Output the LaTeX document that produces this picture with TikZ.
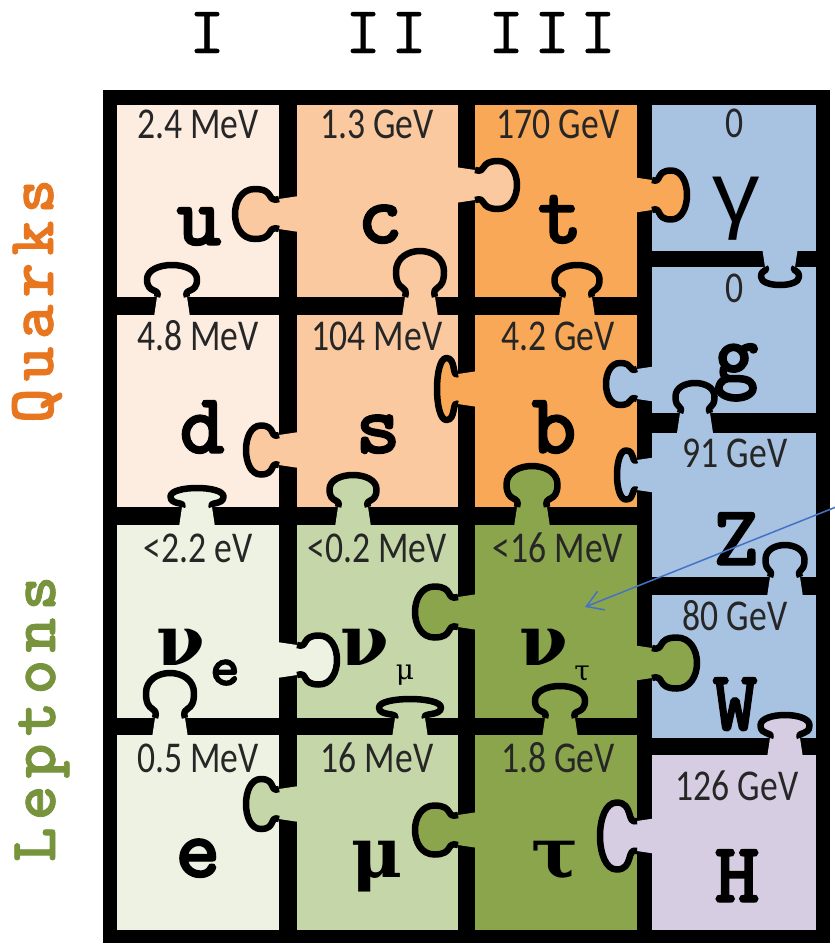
\documentclass[tikz,border=0pt]{standalone}
\usepackage{fontspec}
\usepackage{graphicx}
\usetikzlibrary{arrows.meta}
\newfontfamily\massfont{Carlito}
\newfontfamily\symface[FakeBold=1.6]{lmmonolt10-bold.otf}
\newfontfamily\sideface[LetterSpace=11,FakeBold=1.2]{lmmonolt10-bold.otf}
\newfontfamily\headface[LetterSpace=16,FakeBold=0.6]{lmmono10-regular.otf}
\newfontfamily\greekface{DejaVu Serif}
\newfontfamily\gammaface{Liberation Mono}

% cell colours
\definecolor{cU}{HTML}{FDEDE1}
\definecolor{cC}{HTML}{FBC9A0}
\definecolor{cT}{HTML}{F9A857}
\definecolor{cNe}{HTML}{EEF2E2}
\definecolor{cNm}{HTML}{C5D7A8}
\definecolor{cNt}{HTML}{8BA54D}
\definecolor{cB}{HTML}{A8C2E1}
\definecolor{cH}{HTML}{D6CDE3}
\definecolor{masstext}{HTML}{262626}
\definecolor{quarkcol}{HTML}{E8761F}
\definecolor{leptoncol}{HTML}{77933C}
\definecolor{arrowblue}{HTML}{4472C4}

\newcommand\mval[1]{\scalebox{0.81}[1]{#1}}
\def\nk{15}
% jigsaw tab: #1,#2 = neck centre on the receiving edge, #3 = direction,
% #4 = reach, #5 = bulb half-width, #6 = colour of the giving cell
\newcommand\jigsawtab[6]{%
  \begin{scope}[shift={(#1,#2)},rotate=#3]
    \fill[#6] (-20,-\nk-3) -- (0,-\nk)
      .. controls (0.3*#4,-0.75*\nk) and (0.08*#4,-#5) .. (0.55*#4,-#5)
      .. controls (1.15*#4,-#5) and (1.15*#4,#5) .. (0.55*#4,#5)
      .. controls (0.08*#4,#5) and (0.3*#4,0.75*\nk) .. (0,\nk)
      -- (-20,\nk+3) -- cycle;
    \draw[tabline] (0,-\nk)
      .. controls (0.3*#4,-0.75*\nk) and (0.08*#4,-#5) .. (0.55*#4,-#5)
      .. controls (1.15*#4,-#5) and (1.15*#4,#5) .. (0.55*#4,#5)
      .. controls (0.08*#4,#5) and (0.3*#4,0.75*\nk) .. (0,\nk);
  \end{scope}}

\tikzset{
  tabline/.style={draw=black,line width=6.5pt,line join=round},
  mass/.style={font=\massfont\fontsize{44}{44}\selectfont,text=masstext,anchor=base,inner sep=0pt},
  sym/.style={font=\symface\fontsize{86}{86}\selectfont,anchor=base,inner sep=0pt},
  greek/.style={font=\greekface\bfseries\fontsize{70}{70}\selectfont,anchor=base,inner sep=0pt},
  gammasym/.style={font=\gammaface\fontsize{86}{86}\selectfont,anchor=base,inner sep=0pt},
  subbig/.style={font=\symface\fontsize{57}{57}\selectfont,anchor=base,inner sep=0pt},
  subsmall/.style={font=\greekface\fontsize{28}{28}\selectfont,anchor=base,inner sep=0pt},
  head/.style={font=\headface\fontsize{67}{67}\selectfont,anchor=base,inner sep=0pt},
  side/.style={font=\sideface\fontsize{66}{66}\selectfont,anchor=base,inner sep=0pt,rotate=90},
  pointer/.style={draw=arrowblue,line width=1.5pt,-{Straight Barb[length=16pt,width=20pt]}}
}

\begin{document}
\begin{tikzpicture}[x=1pt,y=-1pt]
\useasboundingbox (0,0) rectangle (835,945);
\fill[white] (0,0) rectangle (835,945);

% frame: the black between the cells
\fill[black] (103,90) rectangle (830,943);

% fermion cells
\fill[cU]  (117,105) rectangle (279,297);
\fill[cC]  (297,105) rectangle (458,297);
\fill[cT]  (475,105) rectangle (637,297);
\fill[cU]  (117,315) rectangle (279,507);
\fill[cC]  (297,315) rectangle (458,507);
\fill[cT]  (475,315) rectangle (637,507);
\fill[cNe] (117,525) rectangle (279,718);
\fill[cNm] (297,525) rectangle (458,718);
\fill[cNt] (475,525) rectangle (637,718);
\fill[cNe] (117,735) rectangle (279,930);
\fill[cNm] (297,735) rectangle (458,930);
\fill[cNt] (475,735) rectangle (637,930);
% boson cells
\fill[cB] (652,105) rectangle (816,251);
\fill[cB] (652,267) rectangle (816,413);
\fill[cB] (652,433) rectangle (816,577);
\fill[cB] (652,595) rectangle (816,738);
\fill[cH] (652,755) rectangle (816,930);

% tabs joining the pieces
\jigsawtab{279}{214}{180}{44}{25}{cC}
\jigsawtab{172}{297}{90}{32}{25}{cU}
\jigsawtab{420}{297}{90}{46}{24}{cC}
\jigsawtab{475}{185}{0}{42}{24}{cC}
\jigsawtab{652}{195}{0}{35}{24.5}{cT}
\jigsawtab{577}{297}{90}{32}{22.5}{cT}
\jigsawtab{780}{267}{-90}{18}{19}{cB}
\jigsawtab{279}{450}{180}{33}{24.5}{cC}
\jigsawtab{458}{389}{180}{21}{31}{cT}
\jigsawtab{197}{507}{90}{19}{26.5}{cNe}
\jigsawtab{353}{507}{90}{32}{23.5}{cNm}
\jigsawtab{637}{384}{180}{31}{21}{cB}
\jigsawtab{695}{413}{90}{30}{19.5}{cB}
\jigsawtab{637}{475}{180}{20}{24.5}{cB}
\jigsawtab{532}{507}{90}{41}{25.5}{cNt}
\jigsawtab{297}{660}{0}{40}{24.5}{cNe}
\jigsawtab{458}{612}{180}{43}{25.5}{cNt}
\jigsawtab{170}{718}{90}{45}{24}{cNe}
\jigsawtab{410}{718}{90}{19}{31}{cNm}
\jigsawtab{652}{663}{0}{45}{25.5}{cNt}
\jigsawtab{785}{577}{90}{32}{19.5}{cB}
\jigsawtab{560}{718}{90}{32}{25}{cNt}
\jigsawtab{785}{738}{90}{23}{24.5}{cH}
\jigsawtab{279}{804}{180}{33}{25}{cNm}
\jigsawtab{458}{830}{180}{43}{24.5}{cNt}
\jigsawtab{637}{836}{180}{37}{33.5}{cH}

% masses
\node[mass] (m-u)  at (198,138) {\mval{2.4 MeV}};
\node[mass] (m-c)  at (377,138) {\mval{1.3 GeV}};
\node[mass] (m-t)  at (558,138) {\mval{170 GeV}};
\node[mass] (m-ga) at (735,137) {\mval{0}};
\node[mass] (m-d)  at (198,350) {\mval{4.8 MeV}};
\node[mass] (m-s)  at (377,350) {\mval{104 MeV}};
\node[mass] (m-b)  at (558,350) {\mval{4.2 GeV}};
\node[mass] (m-g)  at (735,302) {\mval{0}};
\node[mass] (m-Z)  at (735,467) {\mval{91 GeV}};
\node[mass] (m-ne) at (198,562) {\mval{<2.2 eV}};
\node[mass] (m-nm) at (377,562) {\mval{<0.2 MeV}};
\node[mass] (m-nt) at (558,562) {\mval{<16 MeV}};
\node[mass] (m-W)  at (735,630) {\mval{80 GeV}};
\node[mass] (m-e)  at (198,772) {\mval{0.5 MeV}};
\node[mass] (m-mu) at (377,772) {\mval{16 MeV}};
\node[mass] (m-ta) at (558,772) {\mval{1.8 GeV}};
\node[mass] (m-H)  at (737,800) {\mval{126 GeV}};

% particle symbols
\node[sym]      (u)   at (199,245) {u};
\node[sym]      (c)   at (380,243) {c};
\node[sym]      (t)   at (560,243) {t};
\node[gammasym] (gam) at (736,222) {γ};
\node[sym]      (d)   at (202,453) {d};
\node[sym]      (s)   at (378,453) {s};
\node[sym]      (b)   at (554,453) {b};
\node[sym]      (g)   at (736,382) {g};
\node[sym]      (Z)   at (736,565) {Z};
\node[sym]      (W)   at (735,730) {W};
\node[sym]      (H)   at (737,902) {H};
\node[sym]      (e)   at (198,877) {e};
\node[greek]    (mu)  at (377,877) {μ};
\node[greek]    (tau) at (555,877) {τ};
\node[greek]    (nue)     at (181,665) {ν};
\node[subbig]   (nue-s)   at (225,685) {e};
\node[greek]    (numu)    at (365,665) {ν};
\node[subsmall] (numu-s)  at (405,679) {μ};
\node[greek]    (nutau)   at (544,665) {ν};
\node[subsmall] (nutau-s) at (582,680) {τ};

% generations and families
\node[head] (genI)   at (207,53) {I};
\node[head] (genII)  at (386,53) {II};
\node[head] (genIII) at (552,53) {III};
\node[side,text=quarkcol]  (quarks)  at (53,301) {Quarks};
\node[side,text=leptoncol] (leptons) at (55,719) {Leptons};

% pointer into the tau-neutrino piece
\coordinate (pointerstart) at (836,507);
\coordinate (pointertip) at (585,607);
\draw[pointer] (pointerstart) -- (pointertip);
\end{tikzpicture}
\end{document}
